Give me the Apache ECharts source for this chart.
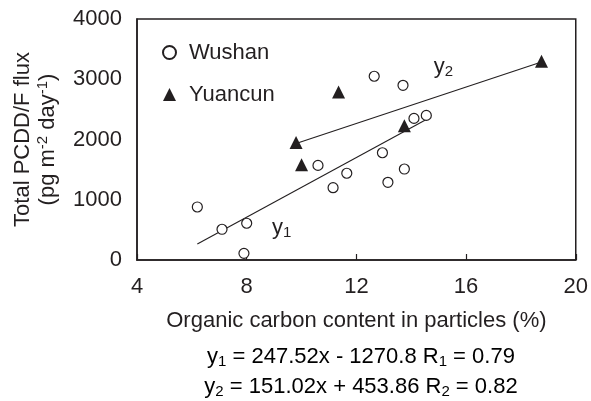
<!DOCTYPE html>
<html>
<head>
<meta charset="utf-8">
<script src="https://cdn.jsdelivr.net/npm/echarts@6/dist/echarts.min.js"></script>
<style>
  html, body { margin: 0; padding: 0; background: #fff; }
  #chart { width: 591px; height: 401px; }
</style>
</head>
<body>
<div id="chart"></div>
<script>
// Sampling sites: organic carbon content (%) vs total PCDD/F deposition flux
const wushanOC   = [6.2, 7.1, 8.0, 7.9, 12.65, 13.7, 14.1, 14.55, 12.95, 10.6, 11.65, 11.15, 13.15, 13.75];
const wushanFlux = [880, 510, 610, 110, 3050, 2900, 2350, 2400, 1780, 1570, 1440, 1200, 1290, 1510];
const yuancunOC   = [9.8, 10.0, 11.35, 13.75, 18.75];
const yuancunFlux = [1950, 1580, 2790, 2230, 3300];

// Linear fits (y = slope * x + intercept) and their correlation coefficients
const fitNames     = ['y1', 'y2'];
const fitSlope     = [247.52, 151.02];
const fitIntercept = [-1270.8, 453.86];
const fitR         = [0.79, 0.82];
const fitXFrom     = [6.2, 9.8];
const fitXTo       = [14.55, 18.75];

// Axis ticks
const xTicks = [4, 8, 12, 16, 20];
const yTicks = [0, 1000, 2000, 3000, 4000];

const INK = '#231f20';
const FONT = '"Liberation Sans", Arial, Helvetica, sans-serif';
const FS = 22;

function zip(xs, ys) { return xs.map((x, i) => [x, ys[i]]); }
function fitLine(k) {
  return [fitXFrom[k], fitXTo[k]].map(x => [x, fitSlope[k] * x + fitIntercept[k]]);
}
function signed(v) { return v < 0 ? ' - ' + Math.abs(v) : ' + ' + v; }

const richText = {
  n:   { fontSize: FS, fontFamily: FONT, color: INK, lineHeight: 25 },
  sub: { fontSize: 15, fontFamily: FONT, color: INK, lineHeight: 25, verticalAlign: 'bottom' },
  sup: { fontSize: 15, fontFamily: FONT, color: INK, lineHeight: 25, verticalAlign: 'top' }
};

function eqText(k) {
  const idx = k + 1;
  return '{n|y}{sub|' + idx + '}{n| = ' + fitSlope[k] + 'x' + signed(fitIntercept[k]) +
         ' R}{sub|' + idx + '}{n| = ' + fitR[k].toFixed(2) + '}';
}

// Anchors of the fit-line labels, in data coordinates
const fitLabelAt = [[9.28, 540], [15.17, 3200]];

const chart = echarts.init(document.getElementById('chart'), null, { renderer: 'canvas' });

const fitSeries = fitNames.map((nm, k) => ({
  name: nm,
  type: 'line',
  data: fitLine(k),
  symbol: 'none',
  silent: true,
  lineStyle: { color: INK, width: 1.1 },
  z: 1,
  markPoint: {
    symbol: 'circle',
    symbolSize: 0,
    silent: true,
    data: [{
      coord: fitLabelAt[k],
      label: {
        show: true,
        position: 'inside',
        formatter: '{n|y}{sub|' + (k + 1) + '}',
        rich: richText
      }
    }]
  }
}));

chart.setOption({
  animation: false,
  backgroundColor: '#fff',
  grid: {
    left: 137, right: 11, top: 19, bottom: 141,
    show: true, borderColor: INK, borderWidth: 1.5
  },
  legend: {
    data: ['Wushan', 'Yuancun'],
    orient: 'vertical',
    left: 157, top: 35,
    itemWidth: 13, itemHeight: 13,
    itemGap: 17,
    textStyle: { fontSize: FS, fontFamily: FONT, color: INK, lineHeight: 25, padding: [0, 0, 0, 8] }
  },
  xAxis: {
    type: 'value',
    min: xTicks[0], max: xTicks[xTicks.length - 1], interval: xTicks[1] - xTicks[0],
    name: 'Organic carbon content in particles (%)',
    nameLocation: 'middle',
    nameGap: 50,
    nameTextStyle: { fontSize: FS, fontFamily: FONT, color: INK },
    axisLine: { lineStyle: { color: INK, width: 1.5 } },
    axisTick: { show: true, inside: true, length: 6, lineStyle: { color: INK, width: 1.2 } },
    axisLabel: { fontSize: FS, fontFamily: FONT, color: INK, margin: 16 },
    splitLine: { show: false }
  },
  yAxis: {
    type: 'value',
    min: yTicks[0], max: yTicks[yTicks.length - 1], interval: yTicks[1] - yTicks[0],
    name: '{n|Total PCDD/F flux}\n{n|(pg m}{sup|-2}{n| day}{sup|-1}{n|)}',
    nameLocation: 'middle',
    nameRotate: 90,
    nameGap: 77,
    nameTextStyle: { rich: richText, align: 'center', lineHeight: 27 },
    axisLine: { lineStyle: { color: INK, width: 1.5 } },
    axisTick: { show: false },
    axisLabel: { fontSize: FS, fontFamily: FONT, color: INK, margin: 15, formatter: v => String(v) },
    splitLine: { show: false }
  },
  series: [
    {
      name: 'Wushan',
      type: 'scatter',
      data: zip(wushanOC, wushanFlux),
      symbol: 'circle',
      symbolSize: 10,
      itemStyle: { color: '#fff', borderColor: INK, borderWidth: 1.2, opacity: 1 },
      z: 3
    },
    {
      name: 'Yuancun',
      type: 'scatter',
      data: zip(yuancunOC, yuancunFlux),
      symbol: 'triangle',
      symbolSize: 13,
      itemStyle: { color: INK, borderColor: INK, borderWidth: 0, opacity: 1 },
      z: 4
    }
  ].concat(fitSeries),
  graphic: [0, 1].map(k => ({
    type: 'text',
    silent: true,
    x: 361,
    y: k === 0 ? 357 : 387,
    style: {
      text: eqText(k),
      rich: richText,
      align: 'center',
      verticalAlign: 'middle',
      textAlign: 'center',
      textVerticalAlign: 'middle'
    }
  }))
});
</script>
</body>
</html>
